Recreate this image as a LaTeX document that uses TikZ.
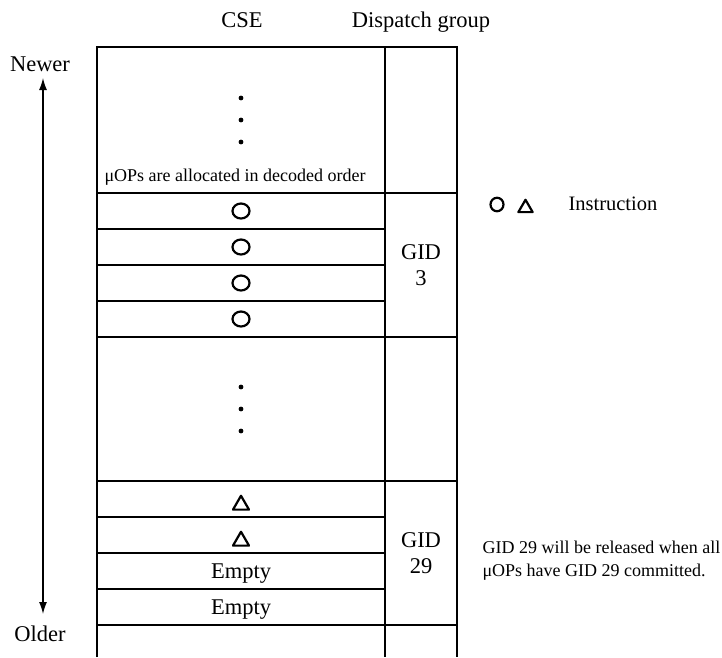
\documentclass[tikz,border=0pt]{standalone}
\usepackage{fontspec}
\setmainfont{Liberation Serif}
\usetikzlibrary{shapes.geometric,arrows.meta}

\begin{document}
\begin{tikzpicture}[x=1pt,y=-1pt,
  grid/.style={line width=2pt},
  uop/.style={draw,ellipse,line width=2.2pt,minimum width=17pt,minimum height=15pt,inner sep=0pt},
  tri/.style={draw,regular polygon,regular polygon sides=3,line width=2.2pt,line join=round,minimum size=18.5pt,inner sep=0pt},
  big/.style={font=\fontsize{22.5}{26}\selectfont},
  small/.style={font=\fontsize{18}{23}\selectfont}]
\useasboundingbox (0,0) rectangle (722,657);

% headers
\node[big,anchor=base] (cse) at (242,27) {CSE};
\node[big,anchor=base] (dg) at (421,27) {Dispatch group};

% age arrow
\node[big,anchor=base] (newer) at (40,71) {Newer};
\node[big,anchor=base] (older) at (40,641) {Older};
\coordinate (top) at (43,78);
\coordinate (bot) at (43,614);
\draw[{Latex[length=12pt,width=8pt]}-{Latex[length=12pt,width=8pt]},line width=1.3pt] (top) -- (bot);

% table
\draw[grid] (97,657) -- (97,47) -- (457,47) -- (457,657);
\draw[grid] (385,47) -- (385,657);
\foreach \y in {193,337,481,625}
  \draw[grid] (97,\y) -- (457,\y);
\foreach \y in {229,265,301,517,553,589}
  \draw[grid] (97,\y) -- (385,\y);
\foreach \y in {98,120,142,387,409,431}
  \fill (241,\y) circle (2.4);

\node[small,anchor=base west] (note) at (101,181) {μOPs are allocated in decoded order};

% uops
\foreach \y [count=\i] in {211,247,283,319}
  \node[uop] (c\i) at (241,\y) {};
\node[tri] (t1) at (241,505) {};
\node[tri] (t2) at (241,541) {};
\node[big,anchor=base] (e1) at (241,578) {Empty};
\node[big,anchor=base] (e2) at (241,614) {Empty};

% groups
\node[big,align=center] (gid3) at (421,265) {GID\\3};
\node[big,align=center] (gid29) at (421,553) {GID\\29};

% legend
\node[uop,minimum width=13pt,minimum height=13.5pt] (lc) at (497,204.5) {};
\node[tri,minimum size=16.5pt] (lt) at (525.5,208) {};
\node[font=\fontsize{20.5}{24}\selectfont,anchor=base west] (instr) at (565,210) {Instruction};

\node[small,anchor=west,align=left] (rel) at (479,561) {GID 29 will be released when all\\μOPs have GID 29 committed.};
\end{tikzpicture}
\end{document}
